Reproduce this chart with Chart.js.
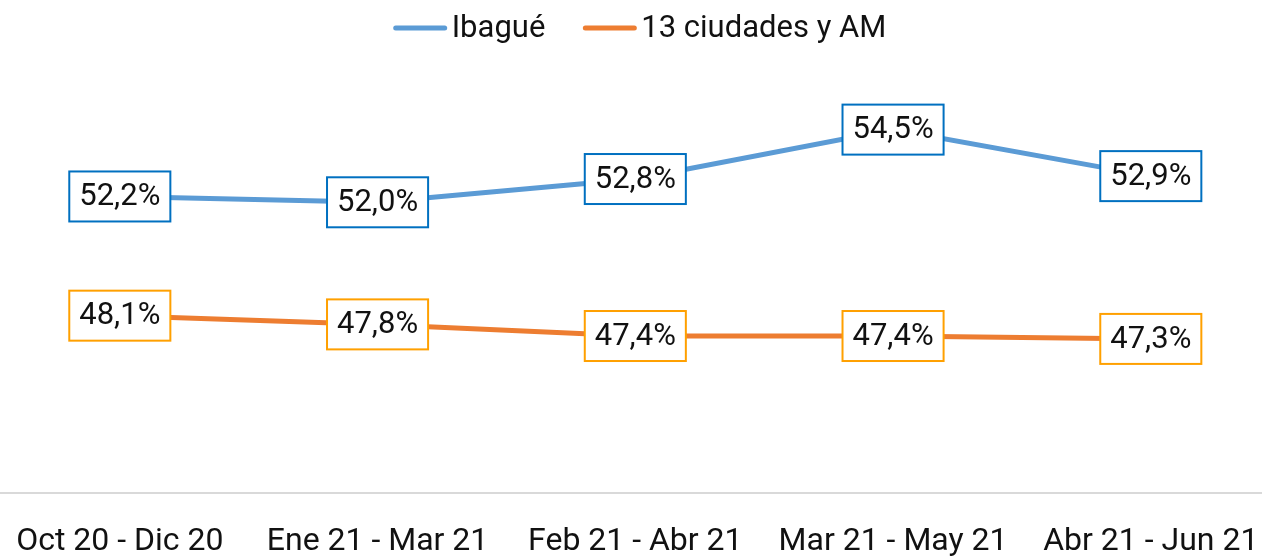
<!DOCTYPE html>
<html>
<head>
<meta charset="utf-8">
<script src="https://cdn.jsdelivr.net/npm/chart.js@4.4.1/dist/chart.umd.min.js"></script>
<style>
  html, body { margin: 0; padding: 0; background: #fff; overflow: hidden; }
  #wrap { position: absolute; left: -13px; top: 0; width: 1301px; height: 556px; }
</style>
</head>
<body>
<div id="wrap"><canvas id="chart"></canvas></div>
<script>
const periods = ['Oct 20 - Dic 20', 'Ene 21 - Mar 21', 'Feb 21 - Abr 21', 'Mar 21 - May 21', 'Abr 21 - Jun 21'];
const ibague = [52.2, 52.0, 52.8, 54.5, 52.9];
const ciudades = [48.1, 47.8, 47.4, 47.4, 47.3];

const FONT = 'Roboto, "Open Sans", sans-serif';
const FSIZE = 31;

// boxed value labels drawn at each point
const boxLabels = {
  id: 'boxLabels',
  afterDatasetsDraw(chart) {
    const ctx = chart.ctx;
    ctx.save();
    ctx.font = FSIZE + 'px ' + FONT;
    ctx.textAlign = 'center';
    ctx.textBaseline = 'middle';
    chart.data.datasets.forEach((ds, i) => {
      const meta = chart.getDatasetMeta(i);
      meta.data.forEach((pt, j) => {
        const txt = ds.data[j].toFixed(1).replace('.', ',') + '%';
        const w = ctx.measureText(txt).width + 20;
        const h = 50;
        ctx.fillStyle = '#fff';
        ctx.fillRect(pt.x - w / 2, pt.y - h / 2, w, h);
        ctx.lineWidth = 2;
        ctx.strokeStyle = ds.labelBorder;
        ctx.strokeRect(pt.x - w / 2, pt.y - h / 2, w, h);
        ctx.fillStyle = '#111';
        ctx.fillText(txt, pt.x, pt.y + 1);
      });
    });
    ctx.restore();
  }
};

// simple legend: line swatch, small gap, label
const lineLegend = {
  id: 'lineLegend',
  afterDraw(chart) {
    const ctx = chart.ctx;
    const swatch = 55, gap = 4, spacing = 37, y = 28;
    ctx.save();
    ctx.font = FSIZE + 'px ' + FONT;
    const items = chart.data.datasets.map(ds => ({
      text: ds.label, color: ds.borderColor, w: ctx.measureText(ds.label).width
    }));
    const total = items.reduce((s, it) => s + swatch + gap + it.w, 0) + spacing * (items.length - 1);
    let x = chart.width / 2 + 2 - total / 2;
    ctx.textBaseline = 'middle';
    ctx.textAlign = 'left';
    items.forEach(it => {
      ctx.strokeStyle = it.color;
      ctx.lineWidth = 5;
      ctx.lineCap = 'round';
      ctx.beginPath();
      ctx.moveTo(x + 3, y);
      ctx.lineTo(x + swatch - 3, y);
      ctx.stroke();
      ctx.fillStyle = '#111';
      ctx.fillText(it.text, x + swatch + gap, y + 1);
      x += swatch + gap + it.w + spacing;
    });
    ctx.restore();
  }
};

new Chart(document.getElementById('chart'), {
  type: 'line',
  data: {
    labels: periods,
    datasets: [
      {
        label: 'Ibagué',
        data: ibague,
        borderColor: '#5B9BD5',
        backgroundColor: '#5B9BD5',
        labelBorder: '#0070C0',
        borderWidth: 5,
        pointRadius: 0,
        tension: 0
      },
      {
        label: '13 ciudades y AM',
        data: ciudades,
        borderColor: '#ED7D31',
        backgroundColor: '#ED7D31',
        labelBorder: '#FFA000',
        borderWidth: 5,
        pointRadius: 0,
        tension: 0
      }
    ]
  },
  options: {
    responsive: true,
    maintainAspectRatio: false,
    animation: false,
    layout: { padding: { top: 86 } },
    plugins: {
      legend: { display: false },
      tooltip: { enabled: false }
    },
    scales: {
      x: {
        offset: true,
        grid: { display: false, drawTicks: false },
        border: { display: true, color: '#d9d9d9', width: 2 },
        ticks: {
          padding: 30,
          color: '#111',
          maxRotation: 0,
          autoSkip: false,
          font: { family: FONT, size: 32 }
        },
        afterFit(scale) { scale.height = 63; }
      },
      y: {
        display: false,
        min: 42,
        max: 56
      }
    }
  },
  plugins: [boxLabels, lineLegend]
});
</script>
</body>
</html>
